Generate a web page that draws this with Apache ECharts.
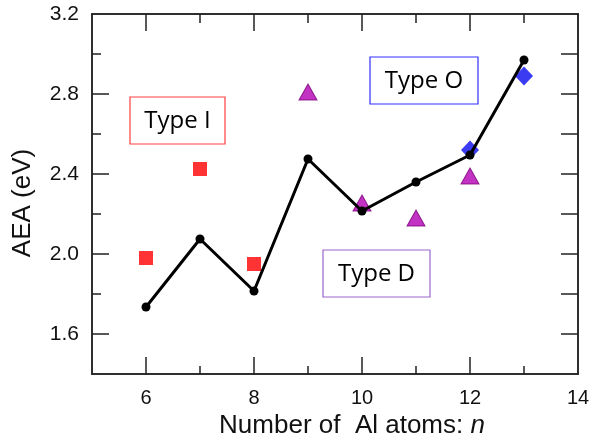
<!DOCTYPE html>
<html>
<head>
<meta charset="utf-8">
<script src="https://cdn.jsdelivr.net/npm/echarts@6/dist/echarts.min.js"></script>
<style>
  html, body { margin: 0; padding: 0; background: #fff; }
  #container { width: 590px; height: 436px; }
</style>
</head>
<body>
<div id="container"></div>
<script>
const container = document.getElementById('container');
const chartIns = echarts.init(container, undefined, { renderer: 'canvas' });

// 数据
const atomCounts = [6, 7, 8, 9, 10, 11, 12, 13];
const aeaLine = [1.735, 2.075, 1.815, 2.475, 2.215, 2.36, 2.495, 2.97];
const typeI = [[6, 1.98], [7, 2.425], [8, 1.95]];
const typeD = [[9, 2.81], [10, 2.255], [11, 2.18], [12, 2.39]];
const typeO = [[12, 2.52], [13, 2.89]];

const xMajor = [6, 8, 10, 12];
const xMinor = [7, 9, 11, 13];
const xLabels = [6, 8, 10, 12, 14];
const yMajor = [1.6, 2.0, 2.4, 2.8];
const yMinor = [1.8, 2.2, 2.6, 3.0];
const yLabels = [1.6, 2.0, 2.4, 2.8, 3.2];
const yRight = [1.6, 1.8, 2.0, 2.2, 2.4, 2.6, 2.8, 3.0];

const FONT = 'Liberation Sans';
const AXIS_COLOR = '#222';
const gridBox = { left: 92, right: 12, top: 14, bottom: 62, outerBoundsMode: 'none', containLabel: false };

function xAxisOf(gridIndex, position, ticks, len, extra) {
  return Object.assign({
    type: 'value', gridIndex, position, min: 5, max: 14,
    axisLine: { show: true, onZero: false, lineStyle: { color: AXIS_COLOR, width: 1.5 } },
    axisTick: { show: true, inside: true, length: len, customValues: ticks,
      lineStyle: { color: AXIS_COLOR, width: 1.5 } },
    axisLabel: { show: false },
    splitLine: { show: false }
  }, extra || {});
}
function yAxisOf(gridIndex, position, ticks, len, extra) {
  return Object.assign({
    type: 'value', gridIndex, position, min: 1.4, max: 3.2,
    axisLine: { show: true, onZero: false, lineStyle: { color: AXIS_COLOR, width: 1.5 } },
    axisTick: { show: ticks.length > 0, inside: true, length: len, customValues: ticks,
      lineStyle: { color: AXIS_COLOR, width: 1.5 } },
    axisLabel: { show: false },
    splitLine: { show: false }
  }, extra || {});
}

const option = {
  backgroundColor: '#fff',
  animation: false,
  grid: [
    Object.assign({}, gridBox),
    Object.assign({}, gridBox)
  ],
  xAxis: [
    xAxisOf(0, 'bottom', xMajor, 17, {
      axisLabel: { show: true, customValues: xLabels, margin: 14,
        fontFamily: FONT, fontSize: 20, color: '#111' },
      name: '{a|Number of  Al atoms: }{b|n}',
      nameLocation: 'middle',
      nameGap: 36,
      nameTextStyle: {
        padding: [0, 0, 0, 34],
        rich: {
          a: { fontFamily: FONT, fontSize: 26, color: '#111' },
          b: { fontFamily: FONT, fontSize: 26, color: '#111', fontStyle: 'italic' }
        }
      }
    }),
    xAxisOf(0, 'top', xMajor, 17),
    xAxisOf(1, 'bottom', xMinor, 8),
    xAxisOf(1, 'top', xMinor, 9)
  ],
  yAxis: [
    yAxisOf(0, 'left', yMajor, 17, {
      axisLabel: { show: true, customValues: yLabels, margin: 13,
        fontFamily: FONT, fontSize: 21, color: '#111',
        formatter: v => v.toFixed(1) },
      name: 'AEA (eV)',
      nameLocation: 'middle',
      nameGap: 56,
      nameTextStyle: { fontFamily: FONT, fontSize: 26, color: '#111', padding: [0, 18, 0, 0] }
    }),
    yAxisOf(0, 'right', yRight, 17),
    yAxisOf(1, 'left', yMinor, 9),
    yAxisOf(1, 'right', [], 0)
  ],
  series: [
    {
      type: 'line',
      xAxisIndex: 0, yAxisIndex: 0,
      data: atomCounts.map((n, i) => [n, aeaLine[i]]),
      symbol: 'circle',
      symbolSize: 9,
      lineStyle: { color: '#000', width: 3 },
      itemStyle: { color: '#000' },
      z: 3
    },
    {
      type: 'scatter',
      xAxisIndex: 0, yAxisIndex: 0,
      data: typeI,
      symbol: 'rect',
      symbolSize: 14,
      itemStyle: { color: '#ff0000' },
      z: 2
    },
    {
      type: 'scatter',
      xAxisIndex: 0, yAxisIndex: 0,
      data: typeD,
      symbol: 'triangle',
      symbolSize: [18, 16],
      itemStyle: { color: '#b400b4', borderColor: '#7a007a', borderWidth: 1 },
      z: 2
    },
    {
      type: 'scatter',
      xAxisIndex: 0, yAxisIndex: 0,
      data: typeO,
      symbol: 'diamond',
      symbolSize: [18, 19],
      itemStyle: { color: '#0a0aee' },
      z: 2
    }
  ],
  graphic: [
    { type: 'rect', shape: { x: 130, y: 97, width: 95, height: 47 },
      style: { fill: '#fff', stroke: '#ff4040', lineWidth: 1.2 }, z: 10 },
    { type: 'text', x: 177.5, y: 121, z: 11,
      style: { text: 'Type I', fontFamily: 'Open Sans', fontSize: 24, fill: '#000',
        align: 'center', verticalAlign: 'middle' } },
    { type: 'rect', shape: { x: 370, y: 57, width: 108, height: 47 },
      style: { fill: '#fff', stroke: '#3030ff', lineWidth: 1.2 }, z: 10 },
    { type: 'text', x: 424, y: 81, z: 11,
      style: { text: 'Type O', fontFamily: 'Open Sans', fontSize: 24, fill: '#000',
        align: 'center', verticalAlign: 'middle' } },
    { type: 'rect', shape: { x: 323, y: 250, width: 107, height: 47 },
      style: { fill: '#fff', stroke: '#9966cc', lineWidth: 1.2 }, z: 10 },
    { type: 'text', x: 376.5, y: 274, z: 11,
      style: { text: 'Type D', fontFamily: 'Open Sans', fontSize: 24, fill: '#000',
        align: 'center', verticalAlign: 'middle' } }
  ]
};

chartIns.setOption(option);
</script>
</body>
</html>
